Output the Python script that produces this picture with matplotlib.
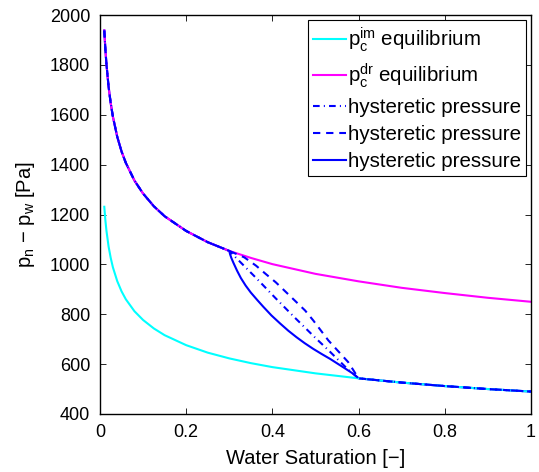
import numpy as np
import matplotlib
matplotlib.use('Agg')
import matplotlib.pyplot as plt

plt.rcParams['font.family'] = ['Liberation Sans', 'DejaVu Sans']
plt.rcParams['mathtext.fontset'] = 'custom'
plt.rcParams['mathtext.rm'] = 'Liberation Sans'
plt.rcParams['mathtext.it'] = 'Liberation Sans'
plt.rcParams['mathtext.bf'] = 'Liberation Sans:bold'

# water saturation grid of the equilibrium curves
sat = [0.01, 0.0125, 0.015, 0.02, 0.025, 0.03, 0.04, 0.05, 0.06, 0.08, 0.1,
       0.125, 0.15, 0.2, 0.25, 0.3, 0.35, 0.4, 0.5, 0.6, 0.7, 0.8, 0.9, 1.0]
# drainage equilibrium p_c^dr [Pa]
pc_dr = [1938, 1862, 1803, 1712, 1645, 1592, 1512, 1453, 1407, 1336, 1284,
         1233, 1193, 1134, 1089, 1054, 1026, 1001, 962, 932, 906, 885, 866, 850]
# imbibition equilibrium p_c^im [Pa]
pc_im = [1231, 1177, 1135, 1071, 1025, 988, 933, 892, 860, 812, 777,
         743, 716, 676, 646, 623, 604, 588, 563, 543, 526, 512, 500, 490]

# scanning curves between the reversal point (0.3) and (0.6)
scan_dd_s = [0.3, 0.316, 0.339, 0.362, 0.381, 0.406, 0.45, 0.5, 0.53, 0.57, 0.6]
scan_dd_p = [1054, 1026, 986, 946, 912, 867, 790, 705, 656, 588, 543]

scan_da_s = [0.3, 0.335, 0.362, 0.385, 0.408, 0.44, 0.476, 0.495, 0.53, 0.576, 0.6]
scan_da_p = [1054, 1028, 995, 961, 928, 875, 815, 775, 695, 608, 543]

scan_so_s = [0.3, 0.302, 0.305, 0.31, 0.318, 0.327, 0.338, 0.35, 0.365, 0.379,
             0.398, 0.418, 0.437, 0.456, 0.475, 0.495, 0.515, 0.534, 0.553,
             0.572, 0.587, 0.6]
scan_so_p = [1054, 1040, 1025, 1005, 975, 945, 915, 887, 857, 830,
             795, 763, 734, 708, 684, 661, 640, 621, 600,
             579, 562, 543]

sat = np.array(sat)
pc_dr = np.array(pc_dr)
pc_im = np.array(pc_im)
dr_part = sat <= 0.3
im_part = sat >= 0.6


def hyst_path(s_scan, p_scan):
    s = np.concatenate([sat[dr_part], s_scan[1:-1], sat[im_part]])
    p = np.concatenate([pc_dr[dr_part], p_scan[1:-1], pc_im[im_part]])
    return s, p


fig = plt.figure(figsize=(5.39, 4.72), dpi=100)
ax = fig.add_axes([0.1855, 0.1229, 0.7995, 0.8453])

l_im, = ax.plot(sat, pc_im, color='#00ffff', lw=1.5, zorder=2,
                label=r'$\mathrm{p_c^{im}}$ equilibrium')
l_dr, = ax.plot(sat, pc_dr, color='#ff00ff', lw=1.5, zorder=2,
                label=r'$\mathrm{p_c^{dr}}$ equilibrium')
s, p = hyst_path(scan_so_s, scan_so_p)
l_so, = ax.plot(s, p, color='#0000ff', lw=1.5, zorder=1,
                label='hysteretic pressure')
s, p = hyst_path(scan_dd_s, scan_dd_p)
l_dd, = ax.plot(s, p, color='#0000ff', lw=1.5, zorder=3,
                linestyle=(0, (3.2, 2.0, 0.5, 2.0)), label='hysteretic pressure')
s, p = hyst_path(scan_da_s, scan_da_p)
l_da, = ax.plot(s, p, color='#0000ff', lw=1.5, zorder=4,
                linestyle=(0, (3.5, 2.8)), label='hysteretic pressure')

ax.set_xlim(0, 1)
ax.set_ylim(400, 2000)
ax.set_xticks([0, 0.2, 0.4, 0.6, 0.8, 1])
ax.set_xticklabels(['0', '0.2', '0.4', '0.6', '0.8', '1'])
ax.set_yticks(np.arange(400, 2001, 200))
ax.tick_params(direction='in', top=True, right=True, length=4, width=0.6,
               labelsize=13, pad=7)
for sp in ax.spines.values():
    sp.set_linewidth(1.0)

ax.set_xlabel('Water Saturation [\u2212]', fontsize=14.5, labelpad=6)
ax.set_ylabel('p$_\\mathrm{n}$ \u2212 p$_\\mathrm{w}$ [Pa]', fontsize=14.5,
              labelpad=9)

leg = ax.legend(handles=[l_im, l_dr, l_dd, l_da, l_so], loc='upper right',
                fontsize=14.8, frameon=True, fancybox=False, framealpha=1,
                edgecolor='black', handlelength=1.6, handletextpad=0.1,
                labelspacing=0.38, borderpad=0.25, borderaxespad=0.25)
leg.get_frame().set_linewidth(0.8)

fig.savefig('out.png', dpi=100)
